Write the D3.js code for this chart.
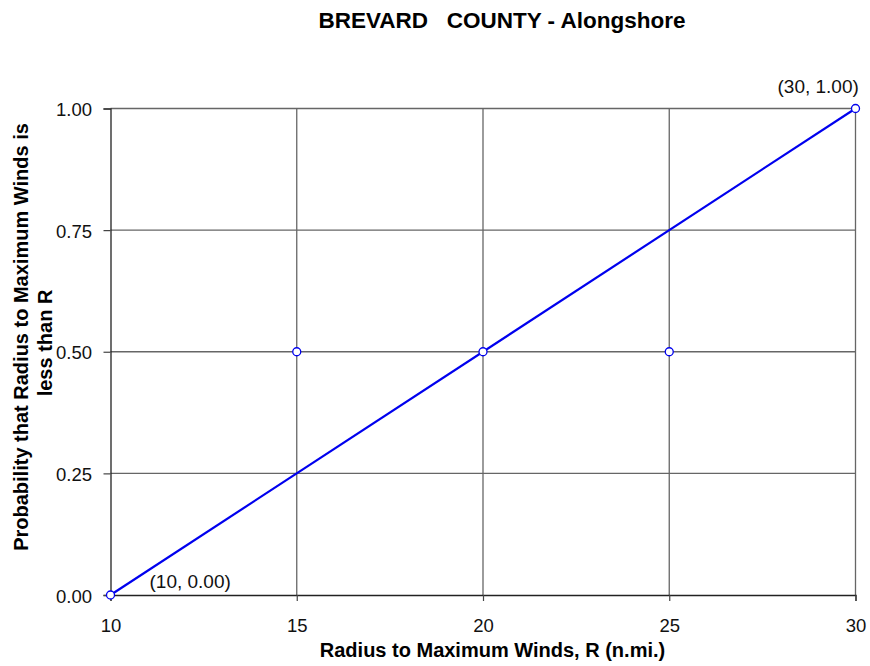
<!DOCTYPE html>
<html>
<head>
<meta charset="utf-8">
<script src="https://cdn.jsdelivr.net/npm/d3@7"></script>
<style>
  body { margin: 0; background: #fff; }
  svg { font-family: Arial, "Liberation Sans", sans-serif; }
</style>
</head>
<body>
<div id="chart"></div>
<script>
// data
const radius = [10, 15, 20, 25, 30];
const prob = [0.00, 0.50, 0.50, 0.50, 1.00];
const lineR = [10, 30];
const lineP = [0.00, 1.00];
const xTicks = [10, 15, 20, 25, 30];
const yTicks = [0, 0.25, 0.5, 0.75, 1];
const pointLabels = [
  { x: 10, y: 0.00, text: "(10, 0.00)" },
  { x: 30, y: 1.00, text: "(30, 1.00)" }
];

const width = 870, height = 666;
const margin = { top: 108.5, right: 14.5, bottom: 71, left: 110.5 };

const svg = d3.select("#chart").append("svg")
    .attr("width", width)
    .attr("height", height);

const x = d3.scaleLinear().domain([10, 30]).range([margin.left, width - margin.right]);
const y = d3.scaleLinear().domain([0, 1]).range([height - margin.bottom, margin.top]);

// gridlines
svg.append("g").selectAll("line.hg")
    .data(yTicks.filter(d => d > 0))
    .enter().append("line")
    .attr("x1", x(10)).attr("x2", x(30))
    .attr("y1", d => y(d)).attr("y2", d => y(d))
    .style("stroke", "#666").style("stroke-width", 1.3);

svg.append("g").selectAll("line.vg")
    .data(xTicks.filter(d => d > 10))
    .enter().append("line")
    .attr("x1", d => x(d)).attr("x2", d => x(d))
    .attr("y1", y(0)).attr("y2", y(1))
    .style("stroke", "#666").style("stroke-width", 1.3);

// axes
const xAxis = svg.append("g")
    .attr("transform", `translate(0,${y(0)})`)
    .call(d3.axisBottom(x).tickValues(xTicks).tickSize(6).tickFormat(d3.format("d")));
const yAxis = svg.append("g")
    .attr("transform", `translate(${x(10)},0)`)
    .call(d3.axisLeft(y).tickValues(yTicks).tickSize(7).tickPadding(11.5).tickFormat(d3.format(".2f")));

[xAxis, yAxis].forEach(a => {
  a.select(".domain").style("stroke", "#222").style("stroke-width", 1.3);
  a.selectAll(".tick line").style("stroke", "#444").style("stroke-width", 1.2);
  a.selectAll(".tick text").style("font-size", "18.5px").style("fill", "#111")
      .style("font-family", "Arial, 'Liberation Sans', sans-serif");
});
xAxis.selectAll(".tick text").attr("y", 37).attr("dy", 0);
yAxis.selectAll(".tick text").attr("dy", "0.38em");

// line
const line = d3.line().x(d => x(d[0])).y(d => y(d[1]));
svg.append("path")
    .datum(lineR.map((r, i) => [r, lineP[i]]))
    .attr("d", line)
    .style("fill", "none")
    .style("stroke", "#0000ee")
    .style("stroke-width", 2.2);

// markers
svg.append("g").selectAll("circle")
    .data(radius.map((r, i) => [r, prob[i]]))
    .enter().append("circle")
    .attr("cx", d => x(d[0]))
    .attr("cy", d => y(d[1]))
    .attr("r", 4)
    .style("fill", "#fff")
    .style("stroke", "#0000ee")
    .style("stroke-width", 1.3);

// data labels
svg.append("g").selectAll("text")
    .data(pointLabels)
    .enter().append("text")
    .attr("x", d => d.x === 10 ? x(d.x) + 39 : x(d.x) - 78)
    .attr("y", d => d.y === 0 ? y(d.y) - 7 : y(d.y) - 16)
    .style("font-size", "19px")
    .style("fill", "#111")
    .text(d => d.text);

// title
svg.append("text")
    .attr("x", 502).attr("y", 28)
    .attr("text-anchor", "middle")
    .style("font-size", "22.5px").style("font-weight", "bold")
    .style("white-space", "pre")
    .attr("xml:space", "preserve")
    .text("BREVARD   COUNTY - Alongshore");

// x label
svg.append("text")
    .attr("x", 492.5).attr("y", 657)
    .attr("text-anchor", "middle")
    .style("font-size", "20px").style("font-weight", "bold")
    .text("Radius to Maximum Winds, R (n.mi.)");

// y label
svg.append("text")
    .attr("transform", "translate(27.5,337) rotate(-90)")
    .attr("text-anchor", "middle")
    .style("font-size", "20px").style("font-weight", "bold")
    .text("Probability that Radius to Maximum Winds is");
svg.append("text")
    .attr("transform", "translate(52,343) rotate(-90)")
    .attr("text-anchor", "middle")
    .style("font-size", "20px").style("font-weight", "bold")
    .text("less than R");
</script>
</body>
</html>
